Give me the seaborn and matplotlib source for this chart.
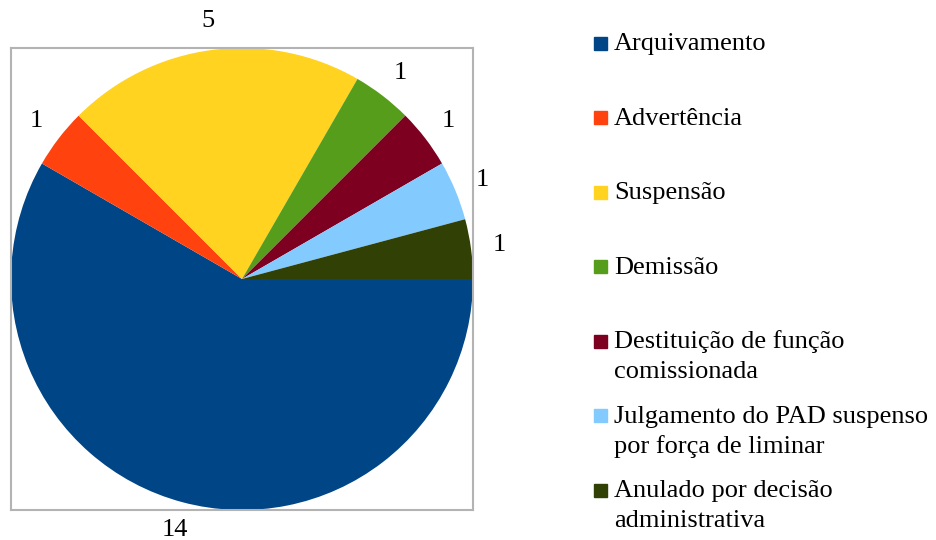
import matplotlib
matplotlib.use('Agg')
import matplotlib.pyplot as plt
import seaborn as sns
from matplotlib.patches import Rectangle

# data
categories = ['Arquivamento', 'Advertência', 'Suspensão', 'Demissão',
              'Destituição de função\ncomissionada',
              'Julgamento do PAD suspenso\npor força de liminar',
              'Anulado por decisão\nadministrativa']
counts = [14, 1, 5, 1, 1, 1, 1]
colors = ['#004586', '#ff420e', '#ffd320', '#579d1c', '#7e0021', '#83caff', '#314004']

sns.set_theme(style='white')
plt.rcParams['font.family'] = ['Liberation Serif', 'DejaVu Serif']
plt.rcParams['text.color'] = 'black'

W, H = 936, 540
fig = plt.figure(figsize=(W / 100, H / 100), dpi=100)
ax = fig.add_axes([11 / W, 30 / H, 462 / W, 462 / H])

palette = sns.color_palette(colors)
wedges, texts = ax.pie(counts, labels=[str(c) for c in counts], colors=palette,
                       startangle=0, counterclock=False, labeldistance=1.125,
                       wedgeprops={'linewidth': 0},
                       textprops={'fontsize': 19, 'color': 'black'})
for t in texts:
    t.set_ha('center')
    t.set_va('center')

ax.set_xlim(-1, 1)
ax.set_ylim(-1, 1)
ax.set_aspect('equal')
ax.set_frame_on(True)
ax.set_xticks([])
ax.set_yticks([])
for sp in ax.spines.values():
    sp.set_visible(True)
    sp.set_color('#b3b3b3')
    sp.set_linewidth(1.5)

# legend, drawn by hand so the square sits on the first line
top, step, line = 43, 74.5, 30
for i, (lab, col) in enumerate(zip(categories, palette)):
    yc = top + i * step
    fig.patches.append(Rectangle((594 / W, 1 - (yc + 6.5) / H), 13 / W, 13 / H,
                                 transform=fig.transFigure, color=col))
    for k, part in enumerate(lab.split('\n')):
        fig.text(614 / W, 1 - (yc + 7 + k * line) / H, part, fontsize=19,
                 va='baseline', ha='left', color='black')

fig.savefig('out.png', dpi=100)
